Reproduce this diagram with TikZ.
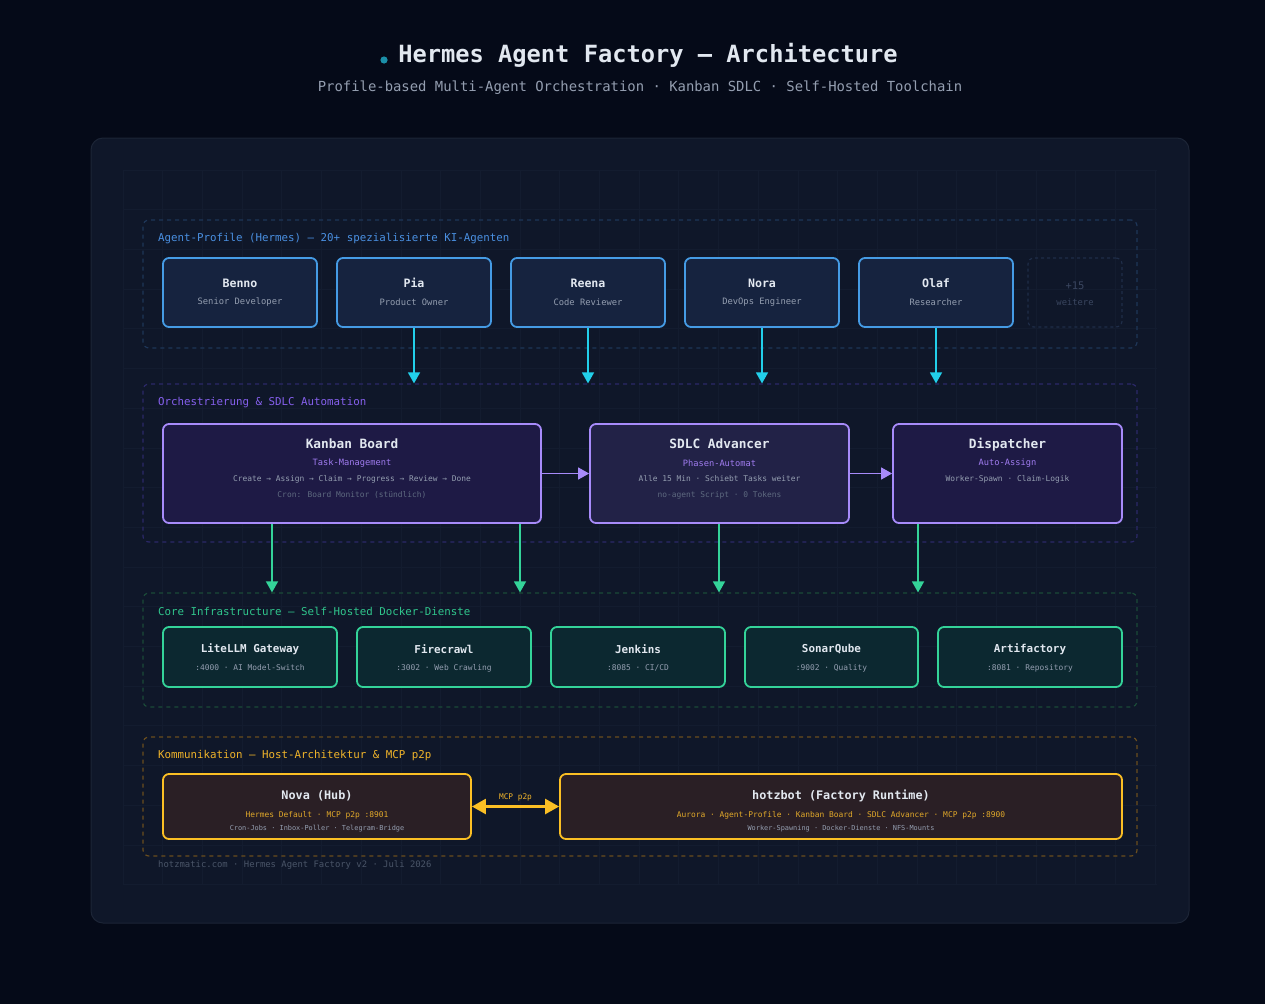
\documentclass[tikz,border=0pt]{standalone}
\usepackage{fontspec}
\setmainfont{DejaVu Sans Mono}
\usetikzlibrary{arrows.meta,positioning,calc}
\definecolor{bgdark}{HTML}{050A18}
\definecolor{panelbg}{HTML}{0F1729}
\definecolor{panelln}{HTML}{1C2536}
\definecolor{gridln}{HTML}{131C2F}
\definecolor{txtw}{HTML}{E2E8F0}
\definecolor{txtg}{HTML}{949EB0}
\definecolor{txtd}{HTML}{5E6A80}
\definecolor{dotc}{HTML}{1B8FA8}
\definecolor{blueln}{HTML}{459BE4}
\definecolor{bluebg}{HTML}{16233F}
\definecolor{bluegrp}{HTML}{1E3658}
\definecolor{bluelbl}{HTML}{4A90E2}
\definecolor{cyanar}{HTML}{22CFEA}
\definecolor{purpln}{HTML}{A78BFA}
\definecolor{purpbg}{HTML}{1E1A45}
\definecolor{purpbg2}{HTML}{222247}
\definecolor{purpgrp}{HTML}{2B2868}
\definecolor{purplbl}{HTML}{8660EE}
\definecolor{purptxt}{HTML}{A07CF0}
\definecolor{grnln}{HTML}{34D399}
\definecolor{grnbg}{HTML}{0C2830}
\definecolor{grngrp}{HTML}{1B4A38}
\definecolor{grnlbl}{HTML}{30C58C}
\definecolor{ambln}{HTML}{FBBF24}
\definecolor{ambbg}{HTML}{2A1F25}
\definecolor{ambgrp}{HTML}{6A4E1E}
\definecolor{amblbl}{HTML}{F0B429}
\definecolor{ambtxt}{HTML}{E0A82A}
\definecolor{moreln}{HTML}{1F2D48}
\definecolor{moretxt}{HTML}{3A4660}
\definecolor{foottxt}{HTML}{4A5568}

\begin{document}
\begin{tikzpicture}[
	x=1pt, y=-1pt,
	ttl/.style={font=\fontsize{#1}{#1}\selectfont\bfseries, text=txtw, inner sep=0},
	sub/.style={font=\fontsize{#1}{#1}\selectfont, inner sep=0},
	grp/.style={draw=#1, dash pattern=on 4pt off 4pt, line width=1.2, rounded corners=6, minimum width=994},
	box/.style={rectangle, rounded corners=6, line width=1.8},
	agent/.style={box, draw=blueln, fill=bluebg, minimum width=154, minimum height=69},
	orch/.style={box, draw=purpln, fill=purpbg, minimum height=99},
	core/.style={box, draw=grnln, fill=grnbg, minimum height=60},
	comm/.style={box, draw=ambln, fill=ambbg, minimum height=65},
	cyanarr/.style={draw=cyanar, line width=1.5, -{Triangle[width=12pt,length=11pt]}},
	purparr/.style={draw=purpln, line width=1.5, -{Triangle[width=12pt,length=11pt]}},
	grnarr/.style={draw=grnln, line width=1.5, -{Triangle[width=12pt,length=11pt]}},
	]
	% background and panel
	\fill[bgdark] (0,0) rectangle (1265,1004);
	\useasboundingbox (0,0) rectangle (1265,1004);
	\filldraw[fill=panelbg, draw=panelln, line width=1, rounded corners=12] (91,138) rectangle (1189,923);
	\foreach \i in {0,...,26}
		\draw[gridln, line width=0.8] ({123+39.7*\i},170) -- ({123+39.7*\i},885);
	\foreach \i in {0,...,18}
		\draw[gridln, line width=0.8] (123,{170+39.7*\i}) -- (1157,{170+39.7*\i});

	% title
	\node[ttl=23.7] (title) at (648,55) {Hermes Agent Factory — Architecture};
	\fill[dotc] (384,60) circle (3.6);
	\node[sub=13.9, text=txtg] (subtitle) at (640,88) {Profile-based Multi-Agent Orchestration · Kanban SDLC · Self-Hosted Toolchain};

	% groups
	\node[grp=bluegrp, minimum height=128] (agentgrp) at (640,284) {};
	\node[grp=purpgrp, minimum height=158] (orchgrp) at (640,463) {};
	\node[grp=grngrp, minimum height=114] (coregrp) at (640,650) {};
	\node[grp=ambgrp, minimum height=119] (commgrp) at (640,796.5) {};
	\node[sub=10.8, text=bluelbl, anchor=west] (agentlbl) at (158,239) {Agent-Profile (Hermes) — 20+ spezialisierte KI-Agenten};
	\node[sub=10.8, text=purplbl, anchor=west] (orchlbl) at (158,403) {Orchestrierung \& SDLC Automation};
	\node[sub=10.8, text=grnlbl, anchor=west] (corelbl) at (158,611) {Core Infrastructure — Self-Hosted Docker-Dienste};
	\node[sub=10.8, text=amblbl, anchor=west] (commlbl) at (158,756) {Kommunikation — Host-Architektur \& MCP p2p};

	% agent profiles
	\foreach \nm/\role/\x [count=\i] in {Benno/Senior Developer/240, Pia/Product Owner/414,
		Reena/Code Reviewer/588, Nora/DevOps Engineer/762, Olaf/Researcher/936} {
		\node[agent] (a\i) at (\x,292.5) {};
		\node[ttl=11.6] (a\i-nm) at (\x,283) {\nm};
		\node[sub=8.8, text=txtg] (a\i-rl) at (\x,302) {\role};
	}
	\node[box, draw=moreln, dash pattern=on 3pt off 3pt, line width=1.2, minimum width=94, minimum height=69] (more) at (1075,292.5) {};
	\node[sub=10.5, text=moretxt] (more-nm) at (1075,286) {+15};
	\node[sub=8.8, text=moretxt] (more-rl) at (1075,302) {weitere};

	% orchestration
	\node[orch, minimum width=378] (kanban) at (352,473.5) {};
	\node[orch, fill=purpbg2, minimum width=259] (sdlc) at (719.5,473.5) {};
	\node[orch, minimum width=229] (disp) at (1007.5,473.5) {};
	\node[ttl=12.8] (kanban-t) at (352,444) {Kanban Board};
	\node[sub=8.7, text=purptxt] (kanban-s) at (352,463) {Task-Management};
	\node[sub=7.9, text=txtg] (kanban-l1) at (352,479) {Create → Assign → Claim → Progress → Review → Done};
	\node[sub=7.9, text=txtd] (kanban-l2) at (352,495) {Cron: Board Monitor (stündlich)};
	\node[ttl=12.8] (sdlc-t) at (719.5,444) {SDLC Advancer};
	\node[sub=8.7, text=purptxt] (sdlc-s) at (719.5,463) {Phasen-Automat};
	\node[sub=7.9, text=txtg] (sdlc-l1) at (719.5,479) {Alle 15 Min · Schiebt Tasks weiter};
	\node[sub=7.9, text=txtd] (sdlc-l2) at (719.5,495) {no-agent Script · 0 Tokens};
	\node[ttl=12.8] (disp-t) at (1007.5,445) {Dispatcher};
	\node[sub=8.7, text=purptxt] (disp-s) at (1007.5,463) {Auto-Assign};
	\node[sub=7.9, text=txtg] (disp-l1) at (1007.5,479) {Worker-Spawn · Claim-Logik};

	% core infrastructure
	\foreach \nm/\info/\x/\w [count=\i] in {LiteLLM Gateway/:4000 · AI Model-Switch/250/174,
		Firecrawl/:3002 · Web Crawling/444/174, Jenkins/:8085 · CI\slash CD/638/174,
		SonarQube/:9002 · Quality/831.5/173, Artifactory/:8081 · Repository/1030/184} {
		\node[core, minimum width=\w] (c\i) at (\x,657) {};
		\node[ttl=10.9] (c\i-nm) at (\x,649) {\nm};
		\node[sub=7.9, text=txtg] (c\i-in) at (\x,668) {\info};
	}

	% communication
	\node[comm, minimum width=308] (nova) at (317,806.5) {};
	\node[comm, minimum width=562] (hotz) at (841,806.5) {};
	\node[ttl=11.8] (nova-t) at (317,796) {Nova (Hub)};
	\node[sub=7.9, text=ambtxt] (nova-s) at (317,815) {Hermes Default · MCP p2p :8901};
	\node[sub=6.9, text=txtg] (nova-l) at (317,829) {Cron-Jobs · Inbox-Poller · Telegram-Bridge};
	\node[ttl=11.8] (hotz-t) at (841,796) {hotzbot (Factory Runtime)};
	\node[sub=7.9, text=ambtxt] (hotz-s) at (841,815) {Aurora · Agent-Profile · Kanban Board · SDLC Advancer · MCP p2p :8900};
	\node[sub=6.9, text=txtg] (hotz-l) at (841,829) {Worker-Spawning · Docker-Dienste · NFS-Mounts};

	% connectors
	\foreach \i in {2,3,4,5}
		\draw[cyanarr] (a\i.south) -- (a\i.south |- orchgrp.north);
	\draw[purparr] (kanban.east) -- (sdlc.west);
	\draw[purparr] (sdlc.east) -- (disp.west);
	\coordinate (k1) at (272,0);
	\coordinate (k2) at (520,0);
	\coordinate (s1) at (719,0);
	\coordinate (d1) at (918,0);
	\draw[grnarr] (kanban.south -| k1) -- (k1 |- coregrp.north);
	\draw[grnarr] (kanban.south -| k2) -- (k2 |- coregrp.north);
	\draw[grnarr] (sdlc.south -| s1) -- (s1 |- coregrp.north);
	\draw[grnarr] (disp.south -| d1) -- (d1 |- coregrp.north);
	\draw[draw=ambln, line width=2.5, {Triangle[width=15pt,length=14pt]}-{Triangle[width=15pt,length=14pt]}] (nova.east) -- (hotz.west)
		node[midway, above=4pt, sub=7.8, text=amblbl] (p2p) {MCP p2p};

	% footer
	\node[sub=8.9, text=foottxt, anchor=west] (footer) at (158,865) {hotzmatic.com · Hermes Agent Factory v2 · Juli 2026};
\end{tikzpicture}
\end{document}
